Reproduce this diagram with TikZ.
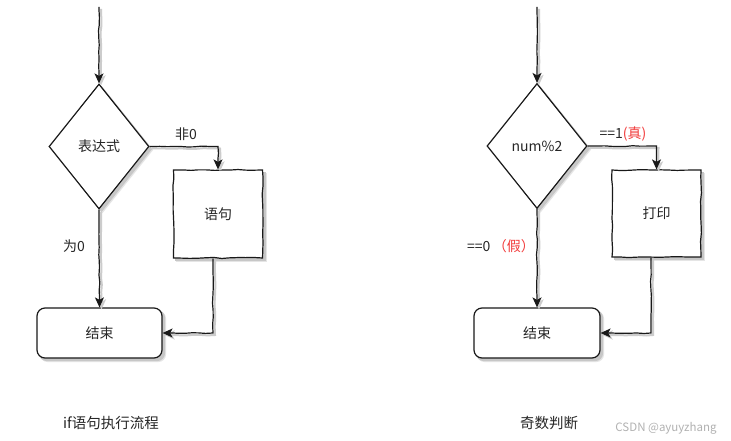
\documentclass[tikz,border=0pt]{standalone}
\usepackage{fontspec}
\newfontfamily\cjk{Noto Sans CJK SC}
\usetikzlibrary{shapes.geometric,arrows.meta,decorations.pathmorphing}
\definecolor{hotred}{HTML}{F23C3C}
\pgfdeclarelayer{bg}
\pgfsetlayers{bg,main}
\begin{document}
\begin{tikzpicture}[x=1pt,y=-1pt,
  every node/.style={font=\cjk\fontsize{14}{16}\selectfont, text=black!85},
  outline/.style={draw=black!90, line width=1.2pt},
  sketch/.style={decorate, decoration={random steps, segment length=8pt, amplitude=0.6pt}},
  shadowfill/.style={fill=black!22},
  shadowsoft/.style={fill=black!10},
  decision/.style={diamond, outline, fill=white,
    minimum width=100pt, minimum height=125pt, inner sep=0pt, aspect=0.8},
  stmtbox/.style={rectangle, outline, sketch, fill=white,
    minimum width=89pt, minimum height=88pt},
  endbox/.style={rectangle, rounded corners=8pt, outline, fill=white,
    minimum width=125pt, minimum height=50pt},
  flow/.style={draw=black!90, line width=1.2pt, -{Stealth[length=10pt,width=9pt,inset=2.5pt]},
    decorate, decoration={random steps, segment length=7pt, amplitude=0.5pt, pre length=3pt, post length=11pt},
    preaction={draw=black!20, line width=2pt, transform canvas={xshift=2pt,yshift=-2pt}}},
  caption/.style={font=\cjk\fontsize{14.5}{16}\selectfont}
]
\useasboundingbox (0,0) rectangle (731,441);

% ---- if statement flow ----
\coordinate (s1) at (99,7);
\node[decision] (d1) at (99,146.5) {表达式};
\node[stmtbox] (b1) at (218,214) {语句};
\node[endbox] (e1) at (99.5,333) {结束};
\draw[flow] (s1) -- (d1.north);
\draw[flow] (d1.east) -| (b1.north);
\draw[flow] (d1.south) -- (e1.north);
\draw[flow] ([xshift=-5pt]b1.south) |- (e1.east);
\node (t1) at (186,134) {非0};
\node (t2) at (74,246) {为0};
\node[caption] (c1) at (111,423) {if语句执行流程};

% ---- odd number check ----
\coordinate (s2) at (537,7);
\node[decision] (d2) at (537,146) {num\%2};
\node[stmtbox, minimum height=87pt] (b2) at (656.5,213.5) {打印};
\node[endbox, minimum width=126pt] (e2) at (537,333) {结束};
\draw[flow] (s2) -- (d2.north);
\draw[flow] (d2.east) -| (b2.north);
\draw[flow] (d2.south) -- (e2.north);
\draw[flow] ([xshift=-5.5pt]b2.south) |- (e2.east);
\node (t3) at (623,134) {==1{\color{hotred}(真)}};
\node (t4) at (501,246) {==0\,{\color{hotred}（假）}};
\node[caption] (c2) at (549,423) {奇数判断};

\node[font=\cjk\fontsize{11.5}{13}\selectfont, text=black!30] (wm) at (666,428) {CSDN @ayuyzhang};

% ---- white page and soft shadows behind the shapes ----
\begin{pgfonlayer}{bg}
  \fill[white] (0,0) rectangle (731,441);
  \foreach \d in {d1,d2} {
    \fill[shadowsoft] ([shift={(3.5,3.5)}]\d.north) -- ([shift={(3.5,3.5)}]\d.east)
      -- ([shift={(3.5,3.5)}]\d.south) -- ([shift={(3.5,3.5)}]\d.west) -- cycle;
    \fill[shadowfill] ([shift={(2.5,2.5)}]\d.north) -- ([shift={(2.5,2.5)}]\d.east)
      -- ([shift={(2.5,2.5)}]\d.south) -- ([shift={(2.5,2.5)}]\d.west) -- cycle;
  }
  \foreach \b in {b1,b2} {
    \fill[shadowsoft] ([shift={(3.5,3.5)}]\b.north west) rectangle ([shift={(3.5,3.5)}]\b.south east);
    \fill[shadowfill] ([shift={(2.5,2.5)}]\b.north west) rectangle ([shift={(2.5,2.5)}]\b.south east);
  }
  \foreach \e in {e1,e2} {
    \fill[shadowsoft, rounded corners=8pt] ([shift={(3.5,3.5)}]\e.north west) rectangle ([shift={(3.5,3.5)}]\e.south east);
    \fill[shadowfill, rounded corners=8pt] ([shift={(2.5,2.5)}]\e.north west) rectangle ([shift={(2.5,2.5)}]\e.south east);
  }
\end{pgfonlayer}
\end{tikzpicture}
\end{document}
